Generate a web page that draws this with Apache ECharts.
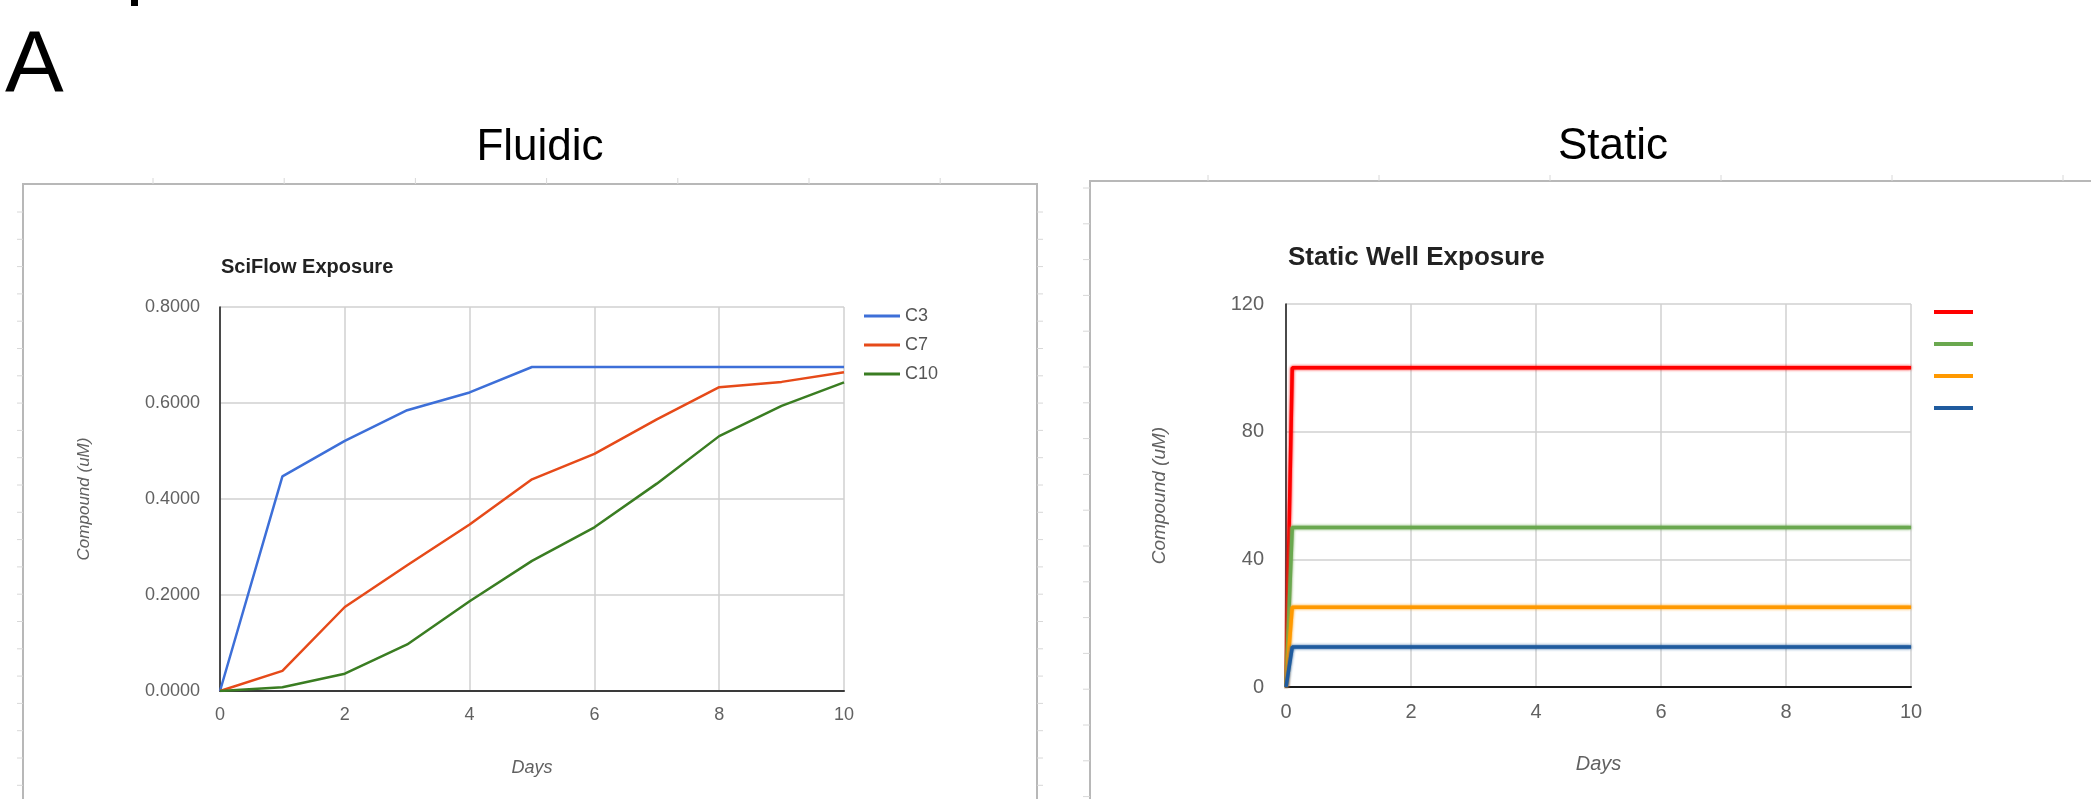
<!DOCTYPE html>
<html><head><meta charset="utf-8">
<script src="https://cdn.jsdelivr.net/npm/echarts@6/dist/echarts.min.js"></script>
<style>html,body{margin:0;padding:0;background:#fff}#c{width:2091px;height:799px}</style>
</head><body><div id="c"></div>
<script>
// ---- data ----
const days = [0, 1, 2, 3, 4, 5, 6, 7, 8, 9, 10];
const c3  = [0, 0.447, 0.521, 0.585, 0.622, 0.675, 0.675, 0.675, 0.675, 0.675, 0.675];
const c7  = [0, 0.042, 0.175, 0.262, 0.347, 0.441, 0.494, 0.566, 0.633, 0.644, 0.664];
const c10 = [0, 0.008, 0.036, 0.097, 0.187, 0.271, 0.341, 0.432, 0.531, 0.594, 0.643];
const fluidicNames = ['C3', 'C7', 'C10'];
const staticDays = [0, 0.1, 10];
const static100 = [0, 100, 100];
const static50  = [0, 50, 50];
const static25  = [0, 25, 25];
const static12  = [0, 12.5, 12.5];
const staticNames = ['S100', 'S50', 'S25', 'S12.5'];

const FF = '"Liberation Sans", Arial, sans-serif';
const LBL = '#616161';
const pairs = (xs, ys) => xs.map((x, i) => [x, ys[i]]);

// ---- decorative spreadsheet frame ----
const deco = [];
deco.push({type:'rect', z:-10, silent:true, shape:{x:23,y:184,width:1014,height:700}, style:{fill:'#fff',stroke:'#b8b8b8',lineWidth:2}});
deco.push({type:'rect', z:-10, silent:true, shape:{x:1090,y:181,width:1100,height:700}, style:{fill:'#fff',stroke:'#b8b8b8',lineWidth:2}});
for (let x = 153; x < 1037; x += 131.2) deco.push({type:'line', z:-9, silent:true, shape:{x1:x,y1:178,x2:x,y2:184}, style:{stroke:'#d8d8d8',lineWidth:1}});
for (let y = 212; y < 799; y += 27.3) {
  deco.push({type:'line', z:-9, silent:true, shape:{x1:17,y1:y,x2:23,y2:y}, style:{stroke:'#d8d8d8',lineWidth:1}});
  deco.push({type:'line', z:-9, silent:true, shape:{x1:1037,y1:y,x2:1043,y2:y}, style:{stroke:'#d8d8d8',lineWidth:1}});
}
for (let x = 1208; x < 2091; x += 171) deco.push({type:'line', z:-9, silent:true, shape:{x1:x,y1:175,x2:x,y2:181}, style:{stroke:'#d8d8d8',lineWidth:1}});
for (let y = 188; y < 799; y += 35.8) deco.push({type:'line', z:-9, silent:true, shape:{x1:1083,y1:y,x2:1090,y2:y}, style:{stroke:'#d8d8d8',lineWidth:1}});
deco.push({type:'rect', silent:true, shape:{x:131,y:0,width:7,height:6}, style:{fill:'#000'}});
deco.push({type:'text', z:10, left:5, top:24, style:{text:'A', font:'88px '+FF, fill:'#000'}});
deco.push({type:'text', z:10, x:540, y:148, style:{text:'Fluidic', font:'44px '+FF, fill:'#000', textAlign:'center', textVerticalAlign:'middle'}});
deco.push({type:'text', z:10, x:1613, y:147, style:{text:'Static', font:'44px '+FF, fill:'#000', textAlign:'center', textVerticalAlign:'middle'}});
deco.push({type:'text', z:10, x:221, y:267, style:{text:'SciFlow Exposure', font:'bold 20px '+FF, fill:'#222', textVerticalAlign:'middle'}});
deco.push({type:'text', z:10, x:1288, y:258, style:{text:'Static Well Exposure', font:'bold 26px '+FF, fill:'#222', textVerticalAlign:'middle'}});

function xAx(gi, fs, axColor) {
  return {gridIndex:gi, type:'value', min:0, max:10, interval:2,
    axisLine:{show:true, onZero:true, lineStyle:{color:axColor, width:2}},
    axisTick:{show:false},
    axisLabel:{fontSize:fs, color:LBL, margin:15, fontFamily:FF},
    splitLine:{show:true, lineStyle:{color:'#d0d0d0', width:1.5}},
    name:'Days', nameLocation:'middle', nameGap:77,
    nameTextStyle:{fontStyle:'italic', fontSize:fs, color:LBL, fontFamily:FF, verticalAlign:'middle'}};
}
function yAx(gi, max, itv, fs, gap, margin, fmt) {
  return {gridIndex:gi, type:'value', min:0, max:max, interval:itv,
    axisLine:{show:true, lineStyle:{color:'#1a1a1a', width:1.5}},
    axisTick:{show:false},
    axisLabel:{fontSize:fs, color:LBL, margin:margin, fontFamily:FF, formatter:fmt},
    splitLine:{show:true, lineStyle:{color:'#d0d0d0', width:1.5}},
    name:'Compound (uM)', nameLocation:'middle', nameGap:gap, nameRotate:90,
    nameTextStyle:{fontStyle:'italic', fontSize:fs-1, color:LBL, fontFamily:FF, verticalAlign:'middle'}};
}
function lineS(name, gi, data, color, w, glow) {
  return {name:name, type:'line', xAxisIndex:gi, yAxisIndex:gi, data:data, symbol:'none', smooth:false,
    lineStyle:{color:color, width:w, shadowBlur:glow?3:0, shadowColor:color}, itemStyle:{color:color}, z:3};
}

const option = {
  animation:false,
  backgroundColor:'#fff',
  graphic: deco,
  grid:[{left:220, top:307, width:624, height:384}, {left:1286, top:304, width:625, height:383}],
  xAxis:[xAx(0, 18, '#3a3a3a'), xAx(1, 20, '#1a1a1a')],
  yAxis:[yAx(0, 0.8, 0.2, 18, 136, 20, v => v.toFixed(4)), yAx(1, 120, 40, 20, 126, 22, v => String(v))],
  legend:[
    {data:fluidicNames, orient:'vertical', left:859, top:302, itemWidth:36, itemHeight:3, itemGap:11, icon:'rect',
     textStyle:{fontSize:18, color:'#555', fontFamily:FF}},
    {data:staticNames, orient:'vertical', left:1929, top:305, itemWidth:39, itemHeight:4, itemGap:28, icon:'rect',
     formatter:() => '', textStyle:{fontSize:4}}
  ],
  series:[
    lineS('C3', 0, pairs(days, c3), '#3d6fd8', 2.5, false),
    lineS('C7', 0, pairs(days, c7), '#e64a19', 2.5, false),
    lineS('C10', 0, pairs(days, c10), '#3a7d22', 2.5, false),
    lineS('S100', 1, pairs(staticDays, static100), '#ff0000', 3.5, true),
    lineS('S50', 1, pairs(staticDays, static50), '#6aa84f', 3.5, true),
    lineS('S25', 1, pairs(staticDays, static25), '#ff9900', 3.5, true),
    lineS('S12.5', 1, pairs(staticDays, static12), '#1f5b9e', 3.5, true)
  ]
};
const chart = echarts.init(document.getElementById('c'), null, {renderer:'canvas'});
chart.setOption(option);
</script></body></html>
